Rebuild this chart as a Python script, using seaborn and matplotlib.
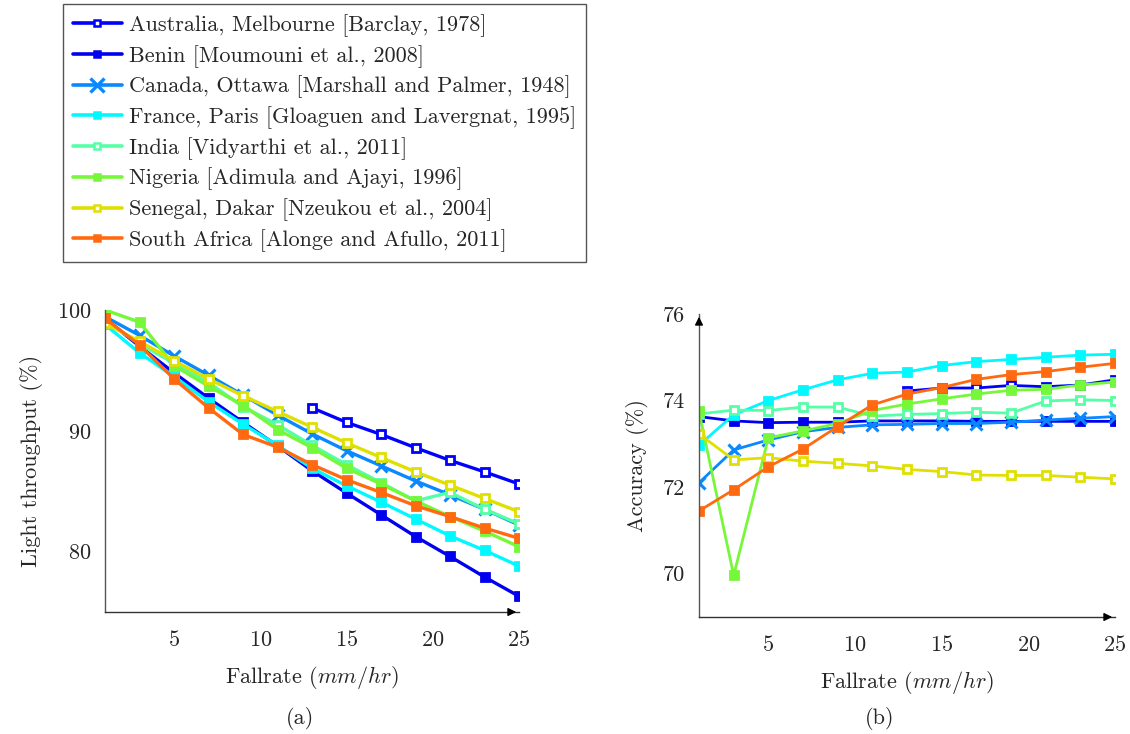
import numpy as np
import pandas as pd
import matplotlib
matplotlib.use("Agg")
import matplotlib.pyplot as plt
import seaborn as sns
from matplotlib.lines import Line2D

sns.set_style("white")
plt.rcParams['font.family'] = ['cmr10', 'DejaVu Serif']
plt.rcParams['mathtext.fontset'] = 'cm'
plt.rcParams['axes.formatter.use_mathtext'] = True

fallrate = [1, 3, 5, 7, 9, 11, 13, 15, 17, 19, 21, 23, 25]

labels = [
    "Australia, Melbourne [Barclay, 1978]",
    "Benin [Moumouni et al., 2008]",
    "Canada, Ottawa [Marshall and Palmer, 1948]",
    "France, Paris [Gloaguen and Lavergnat, 1995]",
    "India [Vidyarthi et al., 2011]",
    "Nigeria [Adimula and Ajayi, 1996]",
    "Senegal, Dakar [Nzeukou et al., 2004]",
    "South Africa [Alonge and Afullo, 2011]",
]

# (a) Light throughput (%)
thr_australia = [None, None, None, None, None, None, 91.9, 90.7, 89.7, 88.6, 87.55, 86.6, 85.6]
thr_benin = [99.3, 97.0, 94.8, 92.7, 90.7, 88.75, 86.7, 84.85, 83.05, 81.25, 79.6, 77.9, 76.3]
thr_canada = [99.45, 97.9, 96.2, 94.6, 92.95, 91.3, 89.75, 88.35, 87.1, 85.85, 84.7, 83.5, 82.2]
thr_france = [98.8, 96.45, 94.5, 92.4, 90.55, 88.8, 86.9, 85.45, 84.1, 82.7, 81.3, 80.1, 78.8]
thr_india = [99.1, 97.2, 95.6, 94.0, 92.0, 90.5, 88.8, 87.2, 85.7, 84.2, 84.9, 83.5, 82.3]
thr_nigeria = [100.0, 99.0, 95.4, 93.7, 92.1, 90.1, 88.6, 86.9, 85.6, 84.2, 82.9, 81.7, 80.4]
thr_senegal = [98.9, 97.4, 95.8, 94.3, 92.9, 91.6, 90.3, 89.0, 87.8, 86.6, 85.5, 84.4, 83.3]
thr_safrica = [99.3, 97.1, 94.3, 91.9, 89.7, 88.65, 87.2, 85.95, 84.9, 83.8, 82.9, 81.95, 81.1]

# (b) Accuracy (%)
acc_australia = [None, None, None, None, None, None, 74.22, 74.29, 74.29, 74.35, 74.32, 74.36, 74.48]
acc_benin = [73.63, 73.53, 73.49, 73.50, 73.50, 73.53, 73.53, 73.53, 73.52, 73.52, 73.52, 73.52, 73.52]
acc_canada = [72.1, 72.86, 73.09, 73.28, 73.38, 73.44, 73.45, 73.47, 73.47, 73.5, 73.55, 73.59, 73.63]
acc_france = [72.97, 73.67, 74.0, 74.25, 74.48, 74.63, 74.66, 74.81, 74.9, 74.95, 75.0, 75.05, 75.07]
acc_india = [73.69, 73.78, 73.77, 73.85, 73.85, 73.64, 73.68, 73.70, 73.73, 73.71, 73.99, 74.02, 74.0]
acc_nigeria = [73.75, 69.96, 73.14, 73.3, 73.47, 73.77, 73.92, 74.04, 74.15, 74.24, 74.26, 74.36, 74.43]
acc_senegal = [73.23, 72.63, 72.68, 72.6, 72.55, 72.49, 72.41, 72.36, 72.28, 72.27, 72.27, 72.23, 72.19]
acc_safrica = [71.45, 71.94, 72.47, 72.88, 73.4, 73.9, 74.15, 74.3, 74.49, 74.6, 74.67, 74.77, 74.86]

thr_series = [thr_australia, thr_benin, thr_canada, thr_france, thr_india, thr_nigeria, thr_senegal, thr_safrica]
acc_series = [acc_australia, acc_benin, acc_canada, acc_france, acc_india, acc_nigeria, acc_senegal, acc_safrica]

colors = ["#0000ff", "#0000ee", "#0a88ff", "#00f8ff", "#55ffa6", "#77f73a", "#e0e000", "#ff6a10"]
markers = ["s", "s", "x", "s", "s", "s", "s", "s"]
open_m = [True, False, False, False, True, False, True, False]

fig = plt.figure(figsize=(11.3, 7.34), dpi=100)
ax1 = fig.add_axes([105 / 1130, 1 - 612 / 734, 414 / 1130, 302 / 734])
ax2 = fig.add_axes([699 / 1130, 1 - 617 / 734, 416 / 1130, 303 / 734])

FS = 16


def draw(ax, series, lw, ms):
    for vals, c, m, op in zip(series, colors, markers, open_m):
        df = pd.DataFrame({"x": fallrate, "y": pd.to_numeric(pd.Series(vals), errors="coerce")})
        kw = dict(marker=m, markersize=ms, markeredgewidth=2.0)
        if m == "x":
            kw["markersize"] = ms + 3
            kw["markeredgewidth"] = 2.2
            kw["markeredgecolor"] = c
        elif op:
            kw["markerfacecolor"] = "white"
            kw["markeredgecolor"] = c
        else:
            kw["markerfacecolor"] = c
            kw["markeredgecolor"] = c
        sns.lineplot(data=df, x="x", y="y", ax=ax, color=c, linewidth=lw,
                     estimator=None, sort=False, **kw)


draw(ax1, thr_series, 2.4, 6.0)
draw(ax2, acc_series, 2.0, 5.5)


def style(ax, ylim, yticks, ylabel, arrow_y):
    ax.set_xlim(1, 25)
    ax.set_ylim(*ylim)
    ax.set_xticks([5, 10, 15, 20, 25])
    ax.set_yticks(yticks)
    ax.tick_params(axis="both", direction="inout", length=8, width=0.8, color="#777777",
                   labelsize=FS)
    ax.tick_params(axis="x", pad=9)
    ax.tick_params(axis="y", pad=6)
    for s in ["top", "right"]:
        ax.spines[s].set_visible(False)
    ax.spines["left"].set_color("#555555")
    ax.spines["bottom"].set_color("#333333")
    ax.spines["left"].set_linewidth(1.0)
    ax.spines["bottom"].set_linewidth(1.0)
    ax.set_xlabel(r"Fallrate $(mm/hr)$", fontsize=FS, labelpad=10)
    ax.set_ylabel(ylabel, fontsize=FS, labelpad=10)
    ax.annotate("", xy=(1.0, 0), xytext=(0.97, 0), xycoords="axes fraction",
                arrowprops=dict(arrowstyle="-|>", color="black", lw=1.0, mutation_scale=12),
                annotation_clip=False)
    if arrow_y:
        ax.annotate("", xy=(0, 1.0), xytext=(0, 0.96), xycoords="axes fraction",
                    arrowprops=dict(arrowstyle="-|>", color="black", lw=1.0, mutation_scale=12),
                    annotation_clip=False)
    ax.grid(False)


style(ax1, (75, 100), [80, 90, 100], "Light throughput (%)", False)
style(ax2, (69, 76), [70, 72, 74, 76], "Accuracy (%)", True)
ax2.set_yticklabels(["70", "72", "74", "76"])

fig.text(300 / 1130, 1 - 718 / 734, "(a)", fontsize=FS, ha="center", va="center")
fig.text(880 / 1130, 1 - 718 / 734, "(b)", fontsize=FS, ha="center", va="center")

handles = []
for c, m, op in zip(colors, markers, open_m):
    if m == "x":
        h = Line2D([0], [0], color=c, lw=2.6, marker="x", markersize=10, markeredgewidth=2.4)
    else:
        h = Line2D([0], [0], color=c, lw=2.6, marker="s", markersize=5,
                   markerfacecolor="white" if op else c, markeredgecolor=c, markeredgewidth=1.8)
    handles.append(h)

leg = fig.legend(handles, labels, loc="upper left", bbox_to_anchor=(63 / 1130, 1 - 4 / 734),
                 fontsize=FS, frameon=True, fancybox=False, framealpha=1, edgecolor="#555555",
                 handlelength=2.2, labelspacing=0.36, borderpad=0.45, handletextpad=0.3,
                 borderaxespad=0)
leg.get_frame().set_linewidth(1.0)

fig.savefig("out.png", dpi=100)
